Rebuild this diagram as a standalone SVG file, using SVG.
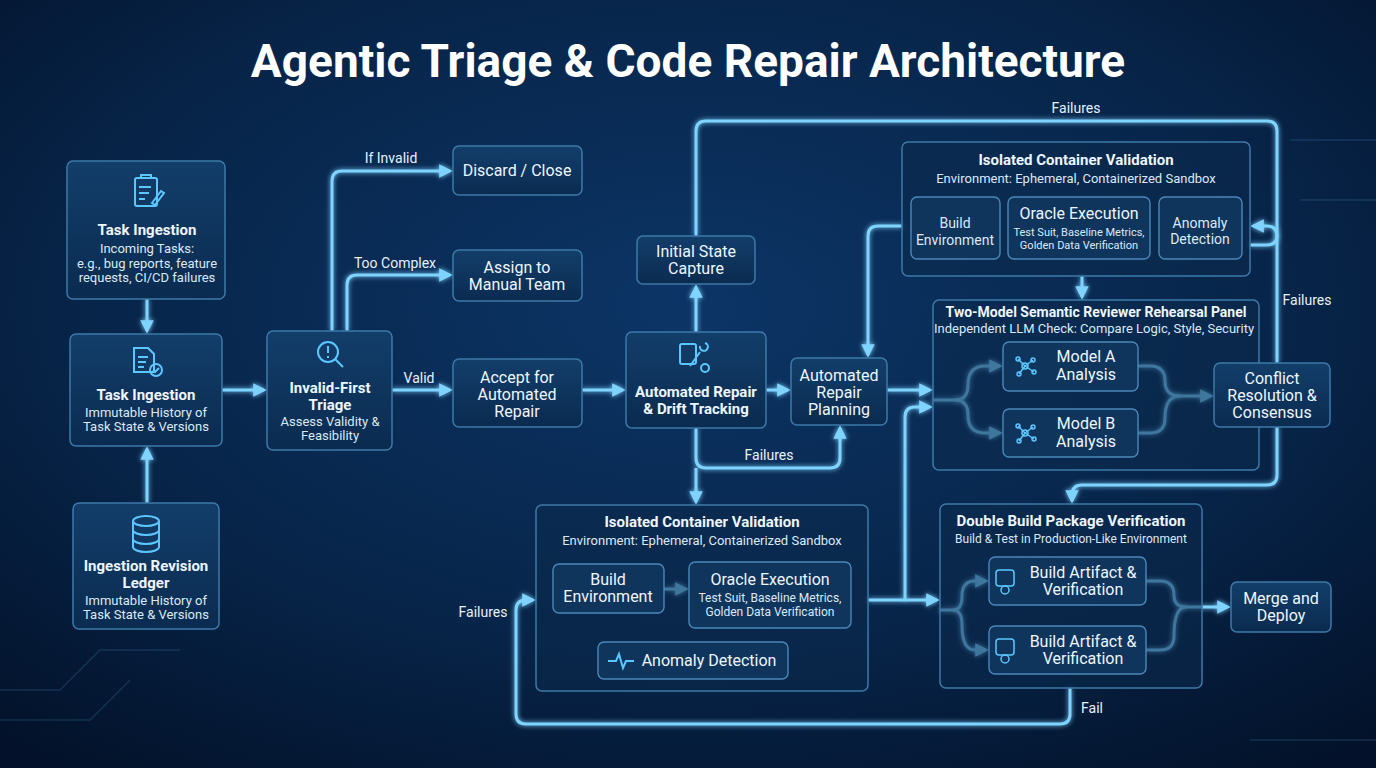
<svg xmlns="http://www.w3.org/2000/svg" width="1376" height="768" viewBox="0 0 1376 768">
<defs>
<radialGradient id="bg" cx="50%" cy="40%" r="75%">
<stop offset="0" stop-color="#0c3566"/><stop offset="0.6" stop-color="#072448"/><stop offset="1" stop-color="#03122a"/>
</radialGradient>
<linearGradient id="nf" x1="0" y1="0" x2="0" y2="1"><stop offset="0" stop-color="#123e6a"/><stop offset="1" stop-color="#0b2b50"/></linearGradient>
<filter id="glow" filterUnits="userSpaceOnUse" x="0" y="0" width="1376" height="768"><feGaussianBlur stdDeviation="2.5" result="b"/><feMerge><feMergeNode in="b"/><feMergeNode in="SourceGraphic"/></feMerge></filter>
<marker id="ah" viewBox="0 0 10 10" refX="8" refY="5" markerWidth="4.5" markerHeight="4.5" orient="auto"><path d="M0,0 L10,5 L0,10 z" fill="#7fd3ff"/></marker>
<style>
.n{fill:url(#nf);stroke:#3d79a8;stroke-width:1.5;}
.c{fill:#0b2a4c;fill-opacity:0.55;stroke:#3d79a8;stroke-width:1.5;}
.in{fill:#0f355d;stroke:#4a88b8;stroke-width:1.4;}
.l{fill:none;stroke:#7fd3ff;stroke-width:3;filter:url(#glow);}
.a{marker-end:url(#ah);}
text{font-family:"Roboto","Liberation Sans",sans-serif;fill:#eef6ff;text-anchor:middle;}
.t{font-size:15px;font-weight:bold;}
.s{font-size:13px;fill:#dbe9f7;}
.m{font-size:16px;}
.lb{font-size:14px;fill:#e6f1fb;}
.ic{fill:none;stroke:#5cc7ff;stroke-width:2;}
</style>
</defs>
<rect width="1376" height="768" fill="url(#bg)"/>
<g opacity="0.25" stroke="#3f7fb0" fill="none" stroke-width="1.5">
<path d="M0,690 L60,690 L100,650 L180,650"/><path d="M0,720 L90,720 L130,680"/><path d="M1290,140 L1376,140"/><path d="M1300,200 L1376,200"/><path d="M1250,740 L1376,740"/>
</g>
<text x="688" y="77" style="font-size:46px;font-weight:bold;fill:#ffffff">Agentic Triage &amp; Code Repair Architecture</text>

<g id="connectors">
<path class="l a" d="M147,299 V331"/>
<path class="l a" d="M147,503 V449"/>
<path class="l a" d="M222,390 H264"/>
<path class="l a" d="M332,331 V181 Q332,171 342,171 H450"/>
<path class="l a" d="M347,331 V285 Q347,275 357,275 H450"/>
<path class="l a" d="M392,390 H450"/>
<path class="l a" d="M582,390 H623"/>
<path class="l a" d="M696,332 V287"/>
<path class="l" d="M696,236 V131 Q696,121 706,121 H1267 Q1277,121 1277,131 V235 Q1277,245 1267,245 H1250"/>
<path class="l a" d="M766,390 H788"/>
<path class="l a" d="M902,226 H878 Q868,226 868,236 V355"/>
<path class="l a" d="M696,428 V458 Q696,468 706,468 H830 Q840,468 840,458 V428"/>
<path class="l a" d="M696,468 V502"/>
<path class="l a" d="M887,390 H930"/>
<path class="l a" d="M1082,276 V297"/>
<path class="l a" d="M933,400 H955 Q968,400 968,385 Q968,366 985,366 H1000"/>
<path class="l a" d="M955,400 Q968,400 968,415 Q968,433 985,433 H1000"/>
<path class="l" d="M1138,366 H1150 Q1165,366 1165,381 Q1165,396 1180,396"/>
<path class="l a" d="M1138,433 H1150 Q1165,433 1165,418 Q1165,396 1180,396 H1211"/>
<path class="l a" d="M1277,363 V236 Q1277,226 1267,226 H1253"/>
<path class="l a" d="M1277,427 V475 Q1277,485 1267,485 H1082 Q1072,485 1072,495 V501"/>
<path class="l a" d="M868,600 H937"/>
<path class="l a" d="M905,600 V417 Q905,407 915,407 H930"/>
<path class="l a" d="M940,610 H953 Q962,610 962,596 Q962,581 975,581 H986"/>
<path class="l a" d="M953,610 Q962,610 962,625 Q962,650 975,650 H986"/>
<path class="l" d="M1146,581 H1160 Q1174,581 1174,595 Q1174,607 1186,607"/>
<path class="l a" d="M1146,650 H1160 Q1174,650 1174,636 Q1174,607 1186,607 H1228"/>
<path class="l a" d="M1070,688 V714 Q1070,724 1060,724 H526 Q516,724 516,714 V610 Q516,600 526,600 H533"/>
<path class="l a" d="M664,589 H686"/>
</g>
<g id="labels">
<text class="lb" x="391" y="163">If Invalid</text>
<text class="lb" x="395" y="268">Too Complex</text>
<text class="lb" x="419" y="383">Valid</text>
<text class="lb" x="1076" y="113">Failures</text>
<text class="lb" x="769" y="460">Failures</text>
<text class="lb" x="1307" y="305">Failures</text>
<text class="lb" x="1092" y="713">Fail</text>
<text class="lb" x="483" y="617">Failures</text>
</g>

<g id="task-ingestion-1"><rect class="n" x="67" y="161" width="158" height="138" rx="6"/>
<g class="ic"><rect x="135" y="178" width="22" height="28" rx="2"/><path d="M141,178 v-3 h10 v3 M139,187 h12 M139,193 h10 M139,199 h6 M152,203 l9,-12 l3,2 l-9,12 z"/></g>
<text class="t" x="147" y="235">Task Ingestion</text><text class="s" x="147" y="253">Incoming Tasks:</text><text class="s" x="147" y="268">e.g., bug reports, feature</text><text class="s" x="147" y="282">requests, CI/CD failures</text></g>

<g id="task-ingestion-2"><rect class="n" x="70" y="334" width="152" height="112" rx="6"/>
<g class="ic"><path d="M134,348 h14 l6,6 v18 h-20 z M138,357 h10 M138,362 h8 M138,367 h6"/><circle cx="156" cy="370" r="6"/><path d="M153,370 l2,2 l4,-4"/></g>
<text class="t" x="146" y="400">Task Ingestion</text><text class="s" x="146" y="417">Immutable History of</text><text class="s" x="146" y="431">Task State &amp; Versions</text></g>

<g id="ledger"><rect class="n" x="73" y="503" width="146" height="126" rx="6"/>
<g class="ic"><ellipse cx="146" cy="521" rx="13" ry="5"/><path d="M133,521 v26 a13,5 0 0 0 26,0 v-26 M133,530 a13,5 0 0 0 26,0 M133,539 a13,5 0 0 0 26,0"/></g>
<text class="t" x="146" y="571">Ingestion Revision</text><text class="t" x="146" y="588">Ledger</text><text class="s" x="146" y="605">Immutable History of</text><text class="s" x="146" y="619">Task State &amp; Versions</text></g>

<g id="triage"><rect class="n" x="267" y="331" width="125" height="119" rx="6"/>
<g class="ic"><circle cx="328" cy="352" r="10"/><path d="M335,359 l8,8 M328,346 v7 M328,356 v2"/></g>
<text class="t" x="330" y="393">Invalid-First</text><text class="t" x="330" y="410">Triage</text><text class="s" x="330" y="426">Assess Validity &amp;</text><text class="s" x="330" y="440">Feasibility</text></g>

<g id="discard"><rect class="n" x="453" y="146" width="129" height="49" rx="6"/><text class="m" x="517" y="176">Discard / Close</text></g>
<g id="assign"><rect class="n" x="453" y="250" width="129" height="51" rx="6"/><text class="m" x="517" y="273">Assign to</text><text class="m" x="517" y="290">Manual Team</text></g>
<g id="accept"><rect class="n" x="453" y="359" width="129" height="68" rx="6"/><text class="m" x="517" y="383">Accept for</text><text class="m" x="517" y="400">Automated</text><text class="m" x="517" y="417">Repair</text></g>

<g id="repair"><rect class="n" x="626" y="332" width="140" height="96" rx="6"/>
<g class="ic"><rect x="680" y="344" width="16" height="20" rx="2"/><path d="M690,366 l10,-14 M700,346 a4,4 0 1 0 5,-3"/><circle cx="705" cy="368" r="4"/></g>
<text class="t" x="696" y="397">Automated Repair</text><text class="t" x="696" y="414">&amp; Drift Tracking</text></g>
<g id="capture"><rect class="n" x="637" y="236" width="118" height="48" rx="6"/><text class="m" x="696" y="257">Initial State</text><text class="m" x="696" y="274">Capture</text></g>
<g id="planning"><rect class="n" x="791" y="358" width="96" height="67" rx="6"/><text class="m" x="839" y="381">Automated</text><text class="m" x="839" y="398">Repair</text><text class="m" x="839" y="415">Planning</text></g>

<g id="container-top"><rect class="c" x="902" y="142" width="348" height="134" rx="6"/>
<text class="t" x="1076" y="165">Isolated Container Validation</text><text class="s" x="1076" y="183">Environment: Ephemeral, Containerized Sandbox</text>
<rect class="in" x="911" y="197" width="89" height="62" rx="6"/><text class="s" style="font-size:14px" x="955" y="228">Build</text><text class="s" style="font-size:14px" x="955" y="245">Environment</text>
<rect class="in" x="1008" y="197" width="142" height="62" rx="6"/><text class="m" x="1079" y="219">Oracle Execution</text><text class="s" style="font-size:11px" x="1079" y="236">Test Suit, Baseline Metrics,</text><text class="s" style="font-size:11px" x="1079" y="249">Golden Data Verification</text>
<rect class="in" x="1159" y="197" width="83" height="62" rx="6"/><text class="s" style="font-size:14px" x="1200" y="228">Anomaly</text><text class="s" style="font-size:14px" x="1200" y="244">Detection</text></g>

<g id="panel"><rect class="c" x="933" y="300" width="326" height="170" rx="6"/>
<text class="t" x="1096" y="317" style="font-size:14px">Two-Model Semantic Reviewer Rehearsal Panel</text><text class="s" x="1094" y="333">Independent LLM Check: Compare Logic, Style, Security</text>
<rect class="in" x="1003" y="342" width="135" height="49" rx="6"/><text class="m" x="1086" y="362">Model A</text><text class="m" x="1086" y="380">Analysis</text>
<g class="ic" style="stroke-width:1.5"><circle cx="1025" cy="366" r="3"/><circle cx="1018" cy="359" r="2"/><circle cx="1033" cy="360" r="2"/><circle cx="1019" cy="374" r="2"/><circle cx="1034" cy="372" r="2"/><path d="M1025,366 L1018,359 M1025,366 L1033,360 M1025,366 L1019,374 M1025,366 L1034,372"/></g>
<rect class="in" x="1003" y="409" width="135" height="48" rx="6"/><text class="m" x="1086" y="429">Model B</text><text class="m" x="1086" y="447">Analysis</text>
<g class="ic" style="stroke-width:1.5"><circle cx="1025" cy="433" r="3"/><circle cx="1018" cy="426" r="2"/><circle cx="1033" cy="427" r="2"/><circle cx="1019" cy="441" r="2"/><circle cx="1034" cy="439" r="2"/><path d="M1025,433 L1018,426 M1025,433 L1033,427 M1025,433 L1019,441 M1025,433 L1034,439"/></g></g>

<g id="conflict"><rect class="n" x="1214" y="363" width="116" height="64" rx="6"/><text class="m" x="1272" y="384">Conflict</text><text class="m" x="1272" y="401">Resolution &amp;</text><text class="m" x="1272" y="418">Consensus</text></g>

<g id="container-bottom"><rect class="c" x="536" y="505" width="332" height="186" rx="6"/>
<text class="t" x="702" y="527">Isolated Container Validation</text><text class="s" x="702" y="545">Environment: Ephemeral, Containerized Sandbox</text>
<rect class="in" x="553" y="564" width="111" height="49" rx="6"/><text class="m" x="608" y="585">Build</text><text class="m" x="608" y="602">Environment</text>
<rect class="in" x="689" y="562" width="162" height="66" rx="6"/><text class="m" x="770" y="585">Oracle Execution</text><text class="s" style="font-size:12px" x="770" y="602">Test Suit, Baseline Metrics,</text><text class="s" style="font-size:12px" x="770" y="616">Golden Data Verification</text>
<rect class="in" x="598" y="642" width="190" height="37" rx="6"/><path class="ic" d="M608,661 h8 l3,-7 l4,14 l3,-7 h8"/><text class="m" x="709" y="666">Anomaly Detection</text></g>

<g id="double-build"><rect class="c" x="940" y="504" width="262" height="184" rx="6"/>
<text class="t" x="1071" y="526">Double Build Package Verification</text><text class="s" x="1071" y="543" style="font-size:12px">Build &amp; Test in Production-Like Environment</text>
<rect class="in" x="989" y="557" width="157" height="48" rx="6"/><text class="m" x="1083" y="578">Build Artifact &amp;</text><text class="m" x="1083" y="595">Verification</text>
<g class="ic" style="stroke-width:1.5"><rect x="996" y="570" width="18" height="16" rx="3"/><circle cx="1005" cy="590" r="4"/></g>
<rect class="in" x="989" y="626" width="157" height="48" rx="6"/><text class="m" x="1083" y="647">Build Artifact &amp;</text><text class="m" x="1083" y="664">Verification</text>
<g class="ic" style="stroke-width:1.5"><rect x="996" y="639" width="18" height="16" rx="3"/><circle cx="1005" cy="659" r="4"/></g></g>

<g id="merge"><rect class="n" x="1231" y="582" width="100" height="50" rx="6"/><text class="m" x="1281" y="604">Merge and</text><text class="m" x="1281" y="621">Deploy</text></g>
</svg>
